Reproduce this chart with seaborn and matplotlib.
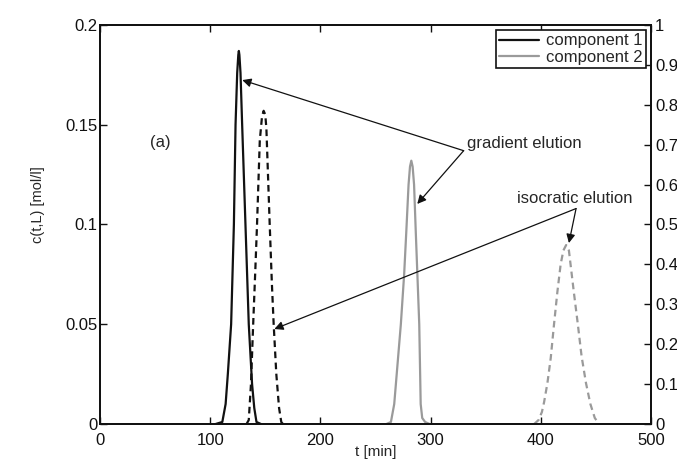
import matplotlib
matplotlib.use("Agg")
import matplotlib.pyplot as plt
import pandas as pd
import seaborn as sns

# values
# component 1, gradient elution (solid black)
t_c1_grad = [105, 111, 114, 116, 119, 121.5, 123, 124.5, 125.5, 126, 126.5, 127.5, 129, 132, 135, 138, 140, 142, 146]
c_c1_grad = [0, 0.001, 0.01, 0.025, 0.05, 0.1, 0.15, 0.176, 0.185, 0.187, 0.185, 0.176, 0.15, 0.1, 0.05, 0.02, 0.008, 0.001, 0]

# component 1, isocratic elution (dashed black)
t_c1_iso = [133, 135, 137, 139, 141, 142.5, 145, 147, 148.5, 150, 151, 154, 156, 157.6, 160, 162.5, 164.5, 166]
c_c1_iso = [0, 0.002, 0.02, 0.05, 0.078, 0.1, 0.142, 0.154, 0.157, 0.155, 0.148, 0.1, 0.07, 0.05, 0.025, 0.008, 0.001, 0]

# component 2, gradient elution (solid grey)
t_c2_grad = [260, 264, 267, 270, 273, 276, 278, 280, 281.3, 282.5, 283.7, 285, 286.5, 288, 289.7, 291, 292.4, 295, 299]
c_c2_grad = [0, 0.001, 0.01, 0.03, 0.05, 0.075, 0.097, 0.12, 0.129, 0.132, 0.129, 0.12, 0.097, 0.075, 0.05, 0.01, 0.003, 0.001, 0]

# component 2, isocratic elution (dashed grey)
t_c2_iso = [394, 398, 401, 403, 406, 409, 412, 415, 418, 420.5, 423, 425.5, 427, 430, 433.6, 437, 441, 445, 449, 453]
c_c2_iso = [0, 0.002, 0.006, 0.011, 0.0205, 0.033, 0.05, 0.066, 0.08, 0.087, 0.0897, 0.087, 0.08, 0.066, 0.05, 0.034, 0.0205, 0.01, 0.003, 0]

legend_labels = ["component 1", "component 2"]
x_ticks = [0, 100, 200, 300, 400, 500]
y_ticks = [0, 0.05, 0.1, 0.15, 0.2]
y2_ticks = [0, 0.1, 0.2, 0.3, 0.4, 0.5, 0.6, 0.7, 0.8, 0.9, 1]

sns.set_style("ticks")
plt.rcParams["font.family"] = ["Liberation Sans", "DejaVu Sans"]
plt.rcParams["font.size"] = 12

fig = plt.figure(figsize=(6.77, 4.59), dpi=100)
ax = fig.add_axes([0.1477, 0.0763, 0.8139, 0.8692])

black = "#111111"
grey = "#9a9a9a"
curves = [
    (t_c1_grad, c_c1_grad, black, "-", legend_labels[0]),
    (t_c1_iso, c_c1_iso, black, "--", None),
    (t_c2_grad, c_c2_grad, grey, "-", legend_labels[1]),
    (t_c2_iso, c_c2_iso, grey, "--", None),
]
handles = []
for t, c, col, ls, lab in curves:
    df = pd.DataFrame({"t": t, "c": c})
    sns.lineplot(data=df, x="t", y="c", ax=ax, color=col, linestyle=ls,
                 linewidth=1.6, estimator=None, legend=False)
    line = ax.lines[-1]
    if ls == "--":
        line.set_dashes((3, 2))
    if lab:
        line.set_label(lab)
        handles.append(line)

ax.set_xlim(0, 500)
ax.set_ylim(0, 0.2)
ax.set_xticks(x_ticks)
ax.set_yticks(y_ticks)
ax.set_yticklabels(["0", "0.05", "0.1", "0.15", "0.2"])
ax.set_xlabel("t [min]", fontsize=11)
ax.xaxis.set_label_coords(0.5, -0.052)
ax.set_ylabel("c(t,L) [mol/l]", fontsize=10.5)
ax.yaxis.set_label_coords(-0.1, 0.55)
ax.tick_params(direction="in", length=5, width=1, top=True, right=True,
               labelsize=12, colors=black)
ax.tick_params(axis="x", pad=6.5)
ax.tick_params(axis="y", pad=2)
for s in ax.spines.values():
    s.set_linewidth(1.3)
    s.set_color(black)

ax.text(45.5, 0.141, "(a)", ha="left", va="center", fontsize=12)
ax.text(333, 0.1405, "gradient elution", ha="left", va="center", fontsize=12)
ax.text(378, 0.1128, "isocratic elution", ha="left", va="center", fontsize=12)

arrow = dict(arrowstyle="-|>", color=black, lw=0.9, mutation_scale=13,
             shrinkA=0, shrinkB=0)
ax.annotate("", xy=(129.1, 0.1724), xytext=(330, 0.137), arrowprops=arrow)
ax.annotate("", xy=(287.9, 0.1103), xytext=(330, 0.137), arrowprops=arrow)
ax.annotate("", xy=(158.2, 0.0476), xytext=(432, 0.108), arrowprops=arrow)
ax.annotate("", xy=(425.5, 0.0907), xytext=(432, 0.108), arrowprops=arrow)

ax2 = ax.twinx()
ax2.set_ylim(0, 1)
ax2.set_yticks(y2_ticks)
ax2.set_yticklabels(["0", "0.1", "0.2", "0.3", "0.4", "0.5", "0.6", "0.7", "0.8", "0.9", "1"])
ax2.tick_params(direction="in", length=5, width=1, pad=3, labelsize=12, colors=black)
for s in ax2.spines.values():
    s.set_linewidth(1.3)
    s.set_color(black)

leg = ax2.legend(handles=handles, labels=legend_labels, loc="upper right",
                 fontsize=12, frameon=True, fancybox=False, edgecolor=black,
                 handlelength=2.4, borderaxespad=0.3, borderpad=0.2,
                 labelspacing=0.1, handletextpad=0.4)
leg.get_frame().set_linewidth(1.2)
leg.get_frame().set_alpha(1)

fig.savefig("out.png", dpi=100)
